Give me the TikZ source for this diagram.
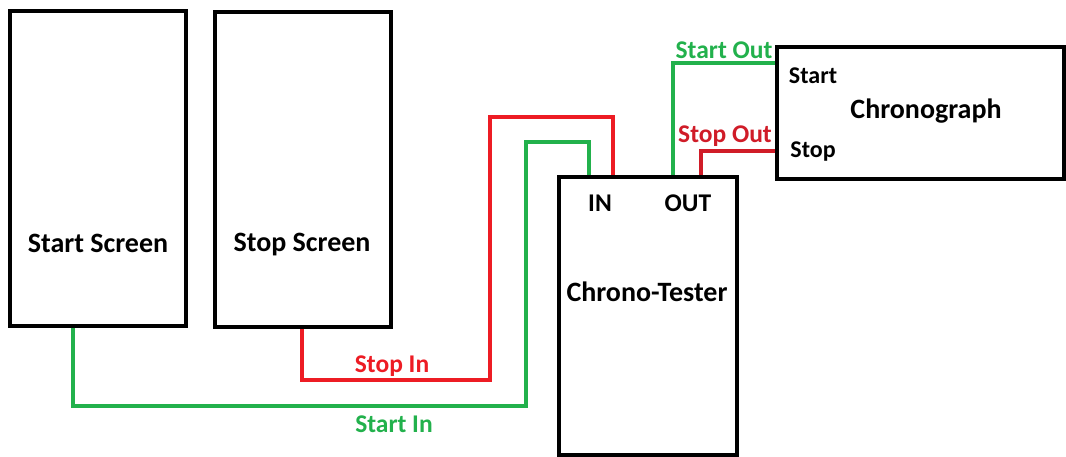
\documentclass[tikz,border=0pt]{standalone}
\usepackage{fontspec}
\setmainfont{Carlito}
\definecolor{wgreen}{HTML}{22B14C}
\definecolor{wred}{HTML}{ED1C24}
\definecolor{wdred}{HTML}{D01C28}
\begin{document}
\begin{tikzpicture}[x=1pt,y=-1pt,
  box/.style={draw=black,line width=3.5pt,inner sep=0pt,rectangle},
  lbl/.style={font=\fontsize{25.5}{30}\selectfont\bfseries,inner sep=0pt},
  big/.style={font=\fontsize{28}{33}\selectfont\bfseries,inner sep=0pt},
  small/.style={font=\fontsize{24}{28}\selectfont\bfseries,inner sep=0pt},
  gwire/.style={draw=wgreen,line width=3.5pt},
  rwire/.style={draw=wred,line width=3.5pt},
  dwire/.style={draw=wdred,line width=3.5pt}]
\useasboundingbox[fill=white] (0,0) rectangle (1066,457);
% boxes
\node[box,minimum width=176pt,minimum height=315pt] (startscreen) at (98,168.5) {};
\node[box,minimum width=176pt,minimum height=315pt] (stopscreen) at (303,169.5) {};
\node[box,minimum width=178pt,minimum height=278pt] (tester) at (648,316) {};
\node[box,minimum width=287pt,minimum height=132pt] (chrono) at (920.5,113) {};
% labels in boxes
\node[big] (tstart) at (98,243) {Start Screen};
\node[big] (tstop) at (302,245) {Stop Screen};
\node[big] (ttester) at (647,292) {Chrono-Tester};
\node[lbl] (tin) at (600,203) {IN};
\node[lbl] (tout) at (688,203) {OUT};
\node[big] (tchr) at (926,111) {Chronograph};
\node[small] (tcstart) at (813,76) {Start};
\node[small] (tcstop) at (813,152) {Stop};
% wires
\draw[gwire] ([xshift=-25pt]startscreen.south) -- (73,406) -- (526,406) -- (526,142) -- (589,142) -- ([xshift=-59pt]tester.north);
\draw[rwire] ([xshift=-1pt]stopscreen.south) -- (302,380) -- (490,380) -- (490,117) -- (613,117) -- ([xshift=-35pt]tester.north);
\draw[gwire] ([xshift=25pt]tester.north) -- (673,63) -- ([yshift=50pt]chrono.west);
\draw[dwire] ([xshift=53pt]tester.north) -- (701,151) -- ([yshift=-38pt]chrono.west);
% wire labels
\node[lbl,text=wred] (lstopin) at (392,366) {Stop In};
\node[lbl,text=wgreen] (lstartin) at (394,424) {Start In};
\node[lbl,text=wgreen] (lstartout) at (724,50) {Start Out};
\node[lbl,text=wdred] (lstopout) at (725,136) {Stop Out};
\end{tikzpicture}
\end{document}
